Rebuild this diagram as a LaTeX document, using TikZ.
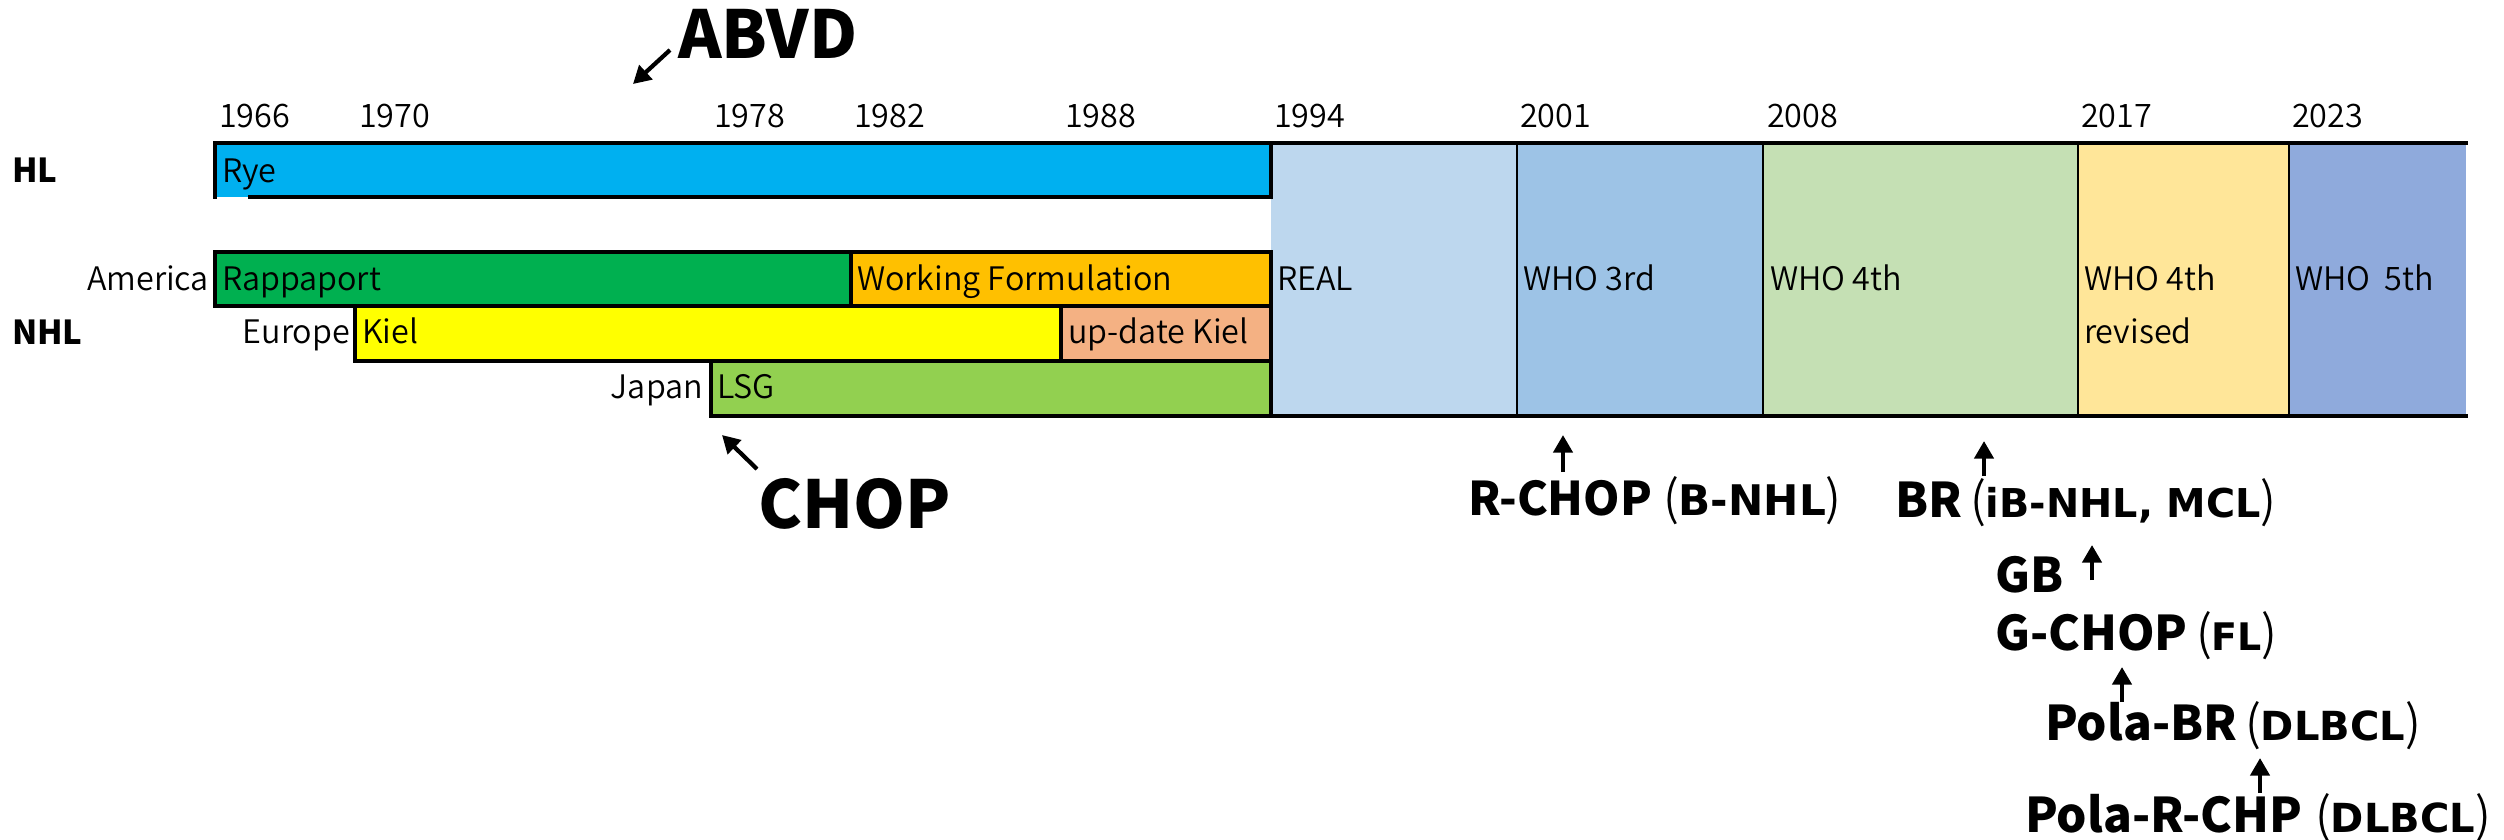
\documentclass[tikz,border=0pt]{standalone}
\usepackage{fontspec}
\setmainfont{Noto Sans CJK JP}
\newfontfamily\innerfont{DejaVu Sans}
\newfontfamily\thinfont{Noto Sans CJK JP DemiLight}
\usetikzlibrary{arrows.meta}

\definecolor{hlblue}{HTML}{00B0F0}
\definecolor{rapgreen}{HTML}{00B050}
\definecolor{wfgold}{HTML}{FFC000}
\definecolor{kielyellow}{HTML}{FFFF00}
\definecolor{updkiel}{HTML}{F4B183}
\definecolor{lsggreen}{HTML}{92D050}
\definecolor{realblue}{HTML}{BDD7EE}
\definecolor{whothree}{HTML}{9DC3E6}
\definecolor{whofour}{HTML}{C5E0B4}
\definecolor{whofourrev}{HTML}{FFE699}
\definecolor{whofive}{HTML}{8FAADC}

% disease in parentheses: thin tall brackets around bold wide letters
% #1 bracket size, #2 letter size, #3 text
\newcommand\dis[3]{{\thinfont\fontsize{#1}{#1}\selectfont(}{\innerfont\bfseries\fontsize{#2}{#2}\selectfont #3}{\thinfont\fontsize{#1}{#1}\selectfont)}}

\begin{document}
\begin{tikzpicture}[x=0.1mm,y=-0.1mm,
  txt/.style={anchor=base west,inner sep=0pt,outer sep=0pt,font=\thinfont\fontsize{9.2}{11}\selectfont},
  txtr/.style={txt,anchor=base east},
  year/.style={txt},
  side/.style={anchor=base west,inner sep=0pt,outer sep=0pt,font=\fontsize{9.4}{10}\selectfont\bfseries},
  big/.style={anchor=base west,inner sep=0pt,outer sep=0pt,font=\fontsize{18.8}{22}\selectfont\bfseries},
  rx/.style={anchor=base west,inner sep=0pt,outer sep=0pt,font=\fontsize{13.6}{15}\selectfont\bfseries},
  dz/.style={anchor=base west,inner sep=0pt,outer sep=0pt},
  rule/.style={line width=1pt,line cap=rect},
  thinrule/.style={line width=0.8pt},
  arr/.style={line width=1.2pt,-{Triangle[width=5.4pt,length=5pt]}},
]
\useasboundingbox (0,0) rectangle (2504,839);

% ---- coloured periods ----
\fill[hlblue]     (215,143) rectangle (1271,197);
\fill[rapgreen]   (215,252) rectangle (851,306);
\fill[wfgold]     (851,252) rectangle (1271,306);
\fill[kielyellow] (355,306) rectangle (1061,361);
\fill[updkiel]    (1061,306) rectangle (1271,361);
\fill[lsggreen]   (711,361) rectangle (1271,416);
\fill[realblue]   (1271,143) rectangle (1517,416);
\fill[whothree]   (1517,143) rectangle (1763,416);
\fill[whofour]    (1763,143) rectangle (2078,416);
\fill[whofourrev] (2078,143) rectangle (2289,416);
\fill[whofive]    (2289,143) rectangle (2466,416);

% ---- borders ----
\draw[rule] (215,143) -- (2466,143);
\draw[rule] (215,143) -- (215,197);
\draw[rule] (250,197) -- (1271,197);
\draw[rule] (1271,143) -- (1271,197);
\draw[rule] (215,252) -- (1271,252);
\draw[rule] (215,252) -- (215,306) -- (1271,306);
\draw[rule] (851,252) -- (851,306);
\draw[rule] (355,306) -- (355,361) -- (1271,361);
\draw[rule] (1061,306) -- (1061,361);
\draw[rule] (711,361) -- (711,416) -- (2466,416);
\draw[rule] (1271,252) -- (1271,416);
\foreach \xx in {1517,1763,2078,2289}
  \draw[thinrule] (\xx,143) -- (\xx,416);

% ---- years ----
\node[year] (y1966) at (219,127) {1966};
\node[year] (y1970) at (359,127) {1970};
\node[year] (y1978) at (714,127) {1978};
\node[year] (y1982) at (854,127) {1982};
\node[year] (y1988) at (1065,127) {1988};
\node[year] (y1994) at (1274,127) {1994};
\node[year] (y2001) at (1520,127) {2001};
\node[year] (y2008) at (1767,127) {2008};
\node[year] (y2017) at (2081,127) {2017};
\node[year] (y2023) at (2292,127) {2023};

% ---- row headers ----
\node[side] (hl)  at (12,182) {HL};
\node[side] (nhl) at (12,344) {NHL};
\node[txtr] (america) at (209,290) {America};
\node[txtr] (europe)  at (350,343) {Europe};
\node[txtr] (japan)   at (703,398) {Japan};

% ---- classification names ----
\node[txt] (rye)  at (222,182) {Rye};
\node[txt] (rapp) at (222,290) {Rappaport};
\node[txt] (wf)   at (857,290) {Working Formulation};
\node[txt] (kiel) at (362,343) {Kiel};
\node[txt] (ukiel) at (1068,343) {up-date Kiel};
\node[txt] (lsg)  at (717,398) {LSG};
\node[txt] (real) at (1277,290) {REAL};
\node[txt] (who3) at (1523,290) {WHO 3rd};
\node[txt] (who4) at (1770,290) {WHO 4th};
\node[txt] (who4r) at (2084,290) {WHO 4th};
\node[txt] (who4rb) at (2084,343) {revised};
\node[txt] (who5) at (2295,290) {WHO\ \ 5th};

% ---- regimens ----
\node[big] (abvd) at (678,58) {ABVD};
\node[big] (chop) at (758,528) {CHOP};

\node[rx,font=\fontsize{13.2}{15}\selectfont\bfseries] (rchop) at (1468,515) {R-CHOP};
\node[dz] (rchopD) at (1663,515) {\dis{13.6}{12}{B-NHL}};
\node[rx] (br) at (1895,517) {BR};
\node[dz] (brD) at (1970,517) {\dis{13.6}{11.3}{iB-NHL, MCL}};
\node[rx] (gb) at (1995,592) {GB};
\node[rx] (gchop) at (1995,650) {G-CHOP};
\node[dz] (gchopD) at (2196,650) {\dis{13.6}{10.8}{FL}};
\node[rx] (polabr) at (2045,740) {Pola-BR};
\node[dz] (polabrD) at (2245,740) {\dis{13.6}{11.4}{DLBCL}};
\node[rx] (polarchp) at (2025,832) {Pola-R-CHP};
\node[dz] (polarchpD) at (2315,832) {\dis{13.6}{11.4}{DLBCL}};

% ---- arrows ----
\coordinate (abvdTail) at (670,50);  \coordinate (abvdTip) at (633,84);
\coordinate (chopTail) at (757,469); \coordinate (chopTip) at (722,435);
\coordinate (rchopTail) at (1563,472); \coordinate (rchopTip) at (1563,435);
\coordinate (brTail) at (1984,476);  \coordinate (brTip) at (1984,441);
\coordinate (gbTail) at (2092,580);  \coordinate (gbTip) at (2092,545);
\coordinate (pbrTail) at (2122,702); \coordinate (pbrTip) at (2122,667);
\coordinate (prTail) at (2260,793);  \coordinate (prTip) at (2260,758);
\draw[arr] (abvdTail) -- (abvdTip);
\draw[arr] (chopTail) -- (chopTip);
\draw[arr] (rchopTail) -- (rchopTip);
\draw[arr] (brTail) -- (brTip);
\draw[arr] (gbTail) -- (gbTip);
\draw[arr] (pbrTail) -- (pbrTip);
\draw[arr] (prTail) -- (prTip);
\end{tikzpicture}
\end{document}
